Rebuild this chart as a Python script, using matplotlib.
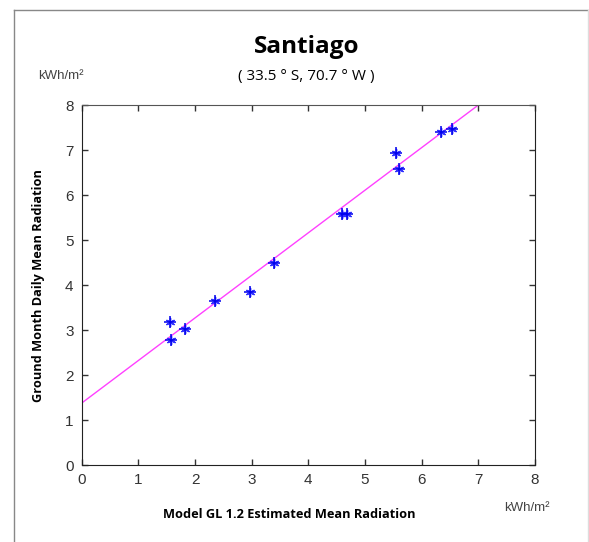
import numpy as np
import matplotlib
matplotlib.use("Agg")
import matplotlib.pyplot as plt
from matplotlib.lines import Line2D

# model estimate vs ground measurements (kWh/m2)
model = [1.55, 1.58, 1.82, 2.36, 2.97, 3.39, 4.60, 4.69, 5.54, 5.61, 6.34, 6.54]
ground = [3.19, 2.79, 3.02, 3.65, 3.84, 4.48, 5.58, 5.59, 6.93, 6.58, 7.41, 7.48]

# fitted line
fit_x = [0.0, 7.0]
fit_y = [1.38, 8.0]

ticks = list(range(9))

plt.rcParams['font.family'] = ['Liberation Sans', 'DejaVu Sans']

fig = plt.figure(figsize=(5.89, 5.42), dpi=100)
ax = fig.add_axes([0.139, 0.142, 0.769, 0.664])

ax.plot(fit_x, fit_y, color='#ff40ff', lw=1.0)
ax.scatter(model, ground, marker=(6, 2, 0), s=36, color='#3030ff', lw=1.0, zorder=3)
ax.scatter(model, ground, marker='+', s=75, color='#0000ee', lw=1.1, zorder=3)

ax.set_xlim(0, 8)
ax.set_ylim(0, 8)
ax.set_xticks(ticks)
ax.set_yticks(ticks)
ax.tick_params(direction='in', top=True, right=True, length=4, width=1,
               labelsize=11, labelcolor='#333333', color='#333333', pad=6)
for s in ax.spines.values():
    s.set_color('#555555')
ax.spines['right'].set_color('#222222')
ax.spines['bottom'].set_color('#222222')
ax.spines['left'].set_color('#222222')

ax.set_xlabel('Model GL 1.2 Estimated Mean Radiation', family=['Open Sans', 'DejaVu Sans'],
              fontweight='bold', fontsize=9.2)
ax.xaxis.set_label_coords(0.458, -0.12)
ax.set_ylabel('Ground Month Daily Mean Radiation', family=['Open Sans', 'DejaVu Sans'],
              fontweight='bold', fontsize=9.2)
ax.yaxis.set_label_coords(-0.082, 0.5)

fig.text(0.52, 0.913, 'Santiago', family=['Open Sans', 'DejaVu Sans'], fontweight='bold',
         fontsize=17.5, ha='center', va='center')
fig.text(0.52, 0.858, '( 33.5 ° S, 70.7 ° W )', family=['Open Sans', 'DejaVu Sans'],
         fontsize=11, ha='center', va='center')
fig.text(0.104, 0.860, 'kWh/m²', fontsize=9.5, color='#444444', ha='center', va='center')
fig.text(0.895, 0.063, 'kWh/m²', fontsize=9.5, color='#444444', ha='center', va='center')

# outer frame
fig.add_artist(Line2D([0.024, 0.024], [0, 0.982], transform=fig.transFigure, color='#888888', lw=1))
fig.add_artist(Line2D([0.024, 0.998], [0.982, 0.982], transform=fig.transFigure, color='#888888', lw=1))
fig.add_artist(Line2D([0.998, 0.998], [0, 0.982], transform=fig.transFigure, color='#dddddd', lw=1))

fig.savefig('out.png', dpi=100)
